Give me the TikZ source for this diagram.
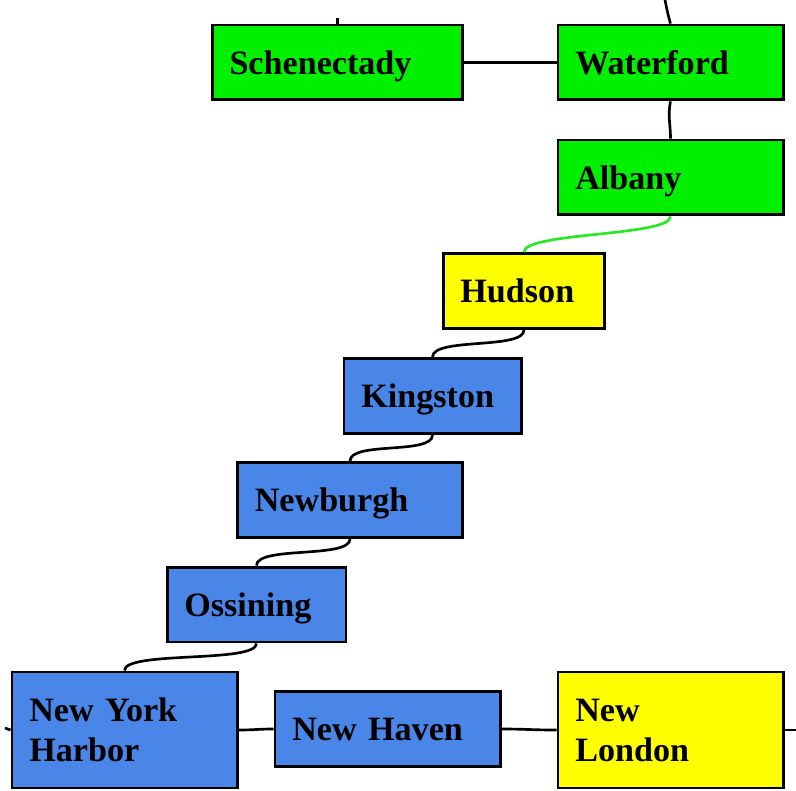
\documentclass[tikz,border=0pt]{standalone}
\usepackage{fontspec}
\setmainfont{Liberation Serif}
\definecolor{upgreen}{RGB}{0,240,0}
\definecolor{upyellow}{RGB}{255,255,0}
\definecolor{upblue}{RGB}{74,134,232}
\definecolor{linkgreen}{RGB}{40,230,40}
\begin{document}
\begin{tikzpicture}[x=0.375pt, y=-0.375pt,
  station/.style={draw, line width=1.1pt, inner xsep=6.5pt, align=left,
    minimum height=28.1pt, text depth=0pt, font=\fontsize{12.8}{15}\selectfont\bfseries},
  bigstation/.style={station, minimum height=43.5pt, text depth=15pt},
  track/.style={line width=1pt}]

  \useasboundingbox (0,0) rectangle (796,790);

  % Stations
  \node[station, fill=upgreen, text width=81pt] (schenectady) at (337.5,62.5) {Schenectady};
  \node[station, fill=upgreen, text width=71.4pt] (waterford) at (670.5,62.5) {Waterford};
  \node[station, fill=upgreen, text width=71.4pt] (albany) at (670.5,177.5) {Albany};
  \node[station, fill=upyellow, text width=47.7pt] (hudson) at (524,291) {Hudson};
  \node[station, fill=upblue, text width=53.4pt] (kingston) at (432.5,396) {Kingston};
  \node[station, fill=upblue, text width=71.4pt] (newburgh) at (350,500) {Newburgh};
  \node[station, fill=upblue, text width=54.1pt] (ossining) at (256.5,604.5) {Ossining};
  \node[bigstation, fill=upblue, text width=71.4pt] (nyharbor) at (124.5,730) {New York\\Harbor};
  \node[station, fill=upblue, text width=71.4pt] (newhaven) at (387.5,729) {New Haven};
  \node[bigstation, fill=upyellow, text width=71.4pt] (newlondon) at (670.5,730) {New\\London};

  % Loose ends
  \coordinate (schenectadyend) at (337.5,18);
  \coordinate (waterfordend) at (665,0);
  \coordinate (nyharborend) at (5,728);
  \coordinate (newlondonend) at (796,730);

  % Tracks
  \draw[track] (schenectady.north) -- (schenectadyend);
  \draw[track] (waterfordend) .. controls (667,10) and (668,15) .. (waterford.north);
  \draw[track] (schenectady) -- (waterford);
  \draw[track] (waterford.south) .. controls +(-3,15) and +(0,-15) .. (albany.north);
  \draw[track, linkgreen] (albany.south) .. controls +(0,20) and +(0,-20) .. (hudson.north);
  \draw[track] (hudson.south) .. controls +(0,20) and +(0,-20) .. (kingston.north);
  \draw[track] (kingston.south) .. controls +(0,20) and +(0,-20) .. (newburgh.north);
  \draw[track] (newburgh.south) .. controls +(0,20) and +(0,-20) .. (ossining.north);
  \draw[track] (ossining.south) .. controls +(0,20) and +(0,-20) .. (nyharbor.north);
  \draw[track] (nyharborend) -- (nyharbor.west);
  \draw[track] (nyharbor.east) .. controls +(15,0) and +(-15,0) .. (newhaven.west);
  \draw[track] (newhaven.east) .. controls +(25,0) and +(-25,0) .. (newlondon.west);
  \draw[track] (newlondon.east) -- (newlondonend);

\end{tikzpicture}
\end{document}
